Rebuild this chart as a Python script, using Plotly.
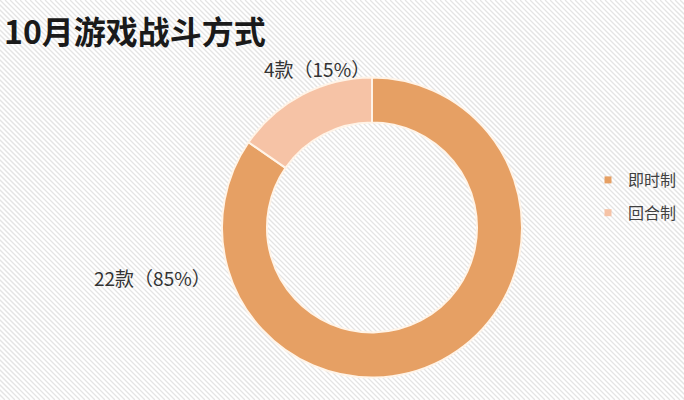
import plotly.graph_objects as go

title_text = "10月游戏战斗方式"
categories = ["即时制", "回合制"]
counts = [22, 4]
percents = [85, 15]
colors = ["#E6A064", "#F6C3A6"]

W, H = 684, 400
FONT = "Noto Sans CJK SC"

fig = go.Figure()

fig.add_trace(go.Pie(
    labels=categories,
    values=counts,
    hole=0.7,
    sort=False,
    direction="clockwise",
    rotation=0,
    textinfo="none",
    hoverinfo="label+value+percent",
    marker=dict(colors=colors, line=dict(color="#FFF4E8", width=2)),
    domain=dict(x=[222 / W, 522 / W], y=[(H - 377.5) / H, (H - 77.5) / H]),
    showlegend=False,
))

# legend entries
for cat, col in zip(categories, colors):
    fig.add_trace(go.Scatter(
        x=[None], y=[None], mode="markers", name=cat, legendgroup=cat,
        marker=dict(symbol="square", size=7, color=col),
        showlegend=True, hoverinfo="skip",
    ))

# data labels
label_pos = {"回合制": (317, 68), "即时制": (152, 277)}
annotations = []
for cat, c, p in zip(categories, counts, percents):
    px, py = label_pos[cat]
    annotations.append(dict(
        x=px / W, y=1 - py / H, xref="paper", yref="paper",
        text=f"{c}款（{p}%）", showarrow=False,
        font=dict(family=FONT, size=19, color="#333333"),
        xanchor="center", yanchor="middle",
    ))

annotations.append(dict(
    x=2 / W, y=1 - 30 / H, xref="paper", yref="paper",
    text=f"<b>{title_text}</b>", showarrow=False,
    font=dict(family=FONT, size=32, color="#1A1A1A"),
    xanchor="left", yanchor="middle",
))

# hatched background stripes
shapes = []
step = 5
x = -H
while x < W:
    shapes.append(dict(
        type="line", xref="paper", yref="paper",
        x0=x / W, y0=1, x1=(x + H) / W, y1=0,
        line=dict(color="#E4E4E4", width=1.3), layer="below",
    ))
    x += step

fig.update_layout(
    width=W, height=H,
    margin=dict(l=0, r=0, t=0, b=0, autoexpand=False),
    paper_bgcolor="white", plot_bgcolor="rgba(0,0,0,0)",
    xaxis=dict(visible=False, domain=[0.99, 1]),
    yaxis=dict(visible=False, domain=[0.99, 1]),
    shapes=shapes,
    annotations=annotations,
    showlegend=True,
    legend=dict(
        x=588 / W, y=1 - 163 / H, xanchor="left", yanchor="top",
        font=dict(family=FONT, size=16, color="#404040"),
        bgcolor="rgba(255,255,255,0)",
        tracegroupgap=9, itemwidth=30,
    ),
)

fig.write_html(
    "out.html",
    config={"displayModeBar": False},
    post_script="document.body.style.margin='0';",
)
